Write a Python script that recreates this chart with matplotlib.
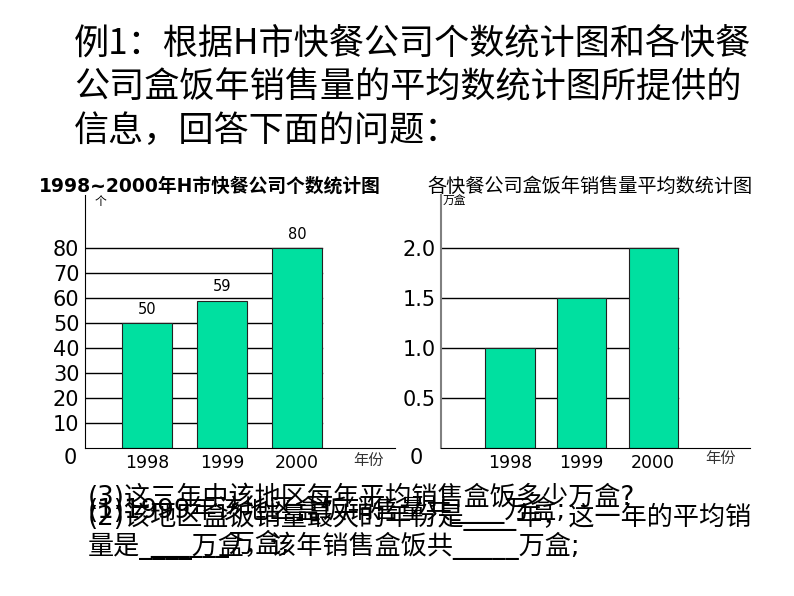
import matplotlib
matplotlib.use("Agg")
import matplotlib.pyplot as plt

plt.rcParams['font.family'] = ['DejaVu Sans', 'Noto Sans CJK SC']

years = ["1998", "1999", "2000"]
companies = [50, 59, 80]
sales = [1.0, 1.5, 2.0]
left_ticks = [0, 10, 20, 30, 40, 50, 60, 70, 80]
right_ticks = [0, 0.5, 1.0, 1.5, 2.0]
right_ticklabels = ["0", "0.5", "1.0", "1.5", "2.0"]

W, H = 794, 596
fig = plt.figure(figsize=(W / 100, H / 100), dpi=100)
BAR = "#00E0A0"


def px_axes(x0, y0, x1, y1):
    return fig.add_axes([x0 / W, 1 - y1 / H, (x1 - x0) / W, (y1 - y0) / H])


# heading
heading = ["例1：根据H市快餐公司个数统计图和各快餐",
           "公司盒饭年销售量的平均数统计图所提供的",
           "信息，回答下面的问题："]
for i, line in enumerate(heading):
    fig.text(74 / W, 1 - (43 + 44 * i) / H, line, fontsize=25.3,
             family=['Noto Sans CJK SC'], va='center', ha='left')

# ---------- left chart ----------
axL = px_axes(85, 195, 395, 448)
c0, sp = 147, 75
axL.set_xlim((85 - c0) / sp, (395 - c0) / sp)
axL.set_ylim(0, (448 - 195) / 2.5)
xs = list(range(len(years)))
bw = 50 / sp
for y in left_ticks[1:]:
    axL.plot([axL.get_xlim()[0], 2 + bw / 2], [y, y], color='black', lw=1, zorder=1)
axL.bar(xs, companies, width=bw, color=BAR, edgecolor='#222222', lw=0.8, zorder=2)
for x, v in zip(xs, companies):
    axL.text(x, v + 2.5, str(v), ha='center', va='bottom', fontsize=10.5)
axL.set_yticks(left_ticks)
axL.set_yticklabels([str(t) if t else "" for t in left_ticks], fontsize=15)
axL.text(-0.025, 0, "0", transform=axL.get_yaxis_transform(), ha='right', va='top', fontsize=15)
axL.set_xticks(xs)
axL.set_xticklabels(years, fontsize=12.5)
axL.tick_params(length=0, pad=4)
for s in ['top', 'right']:
    axL.spines[s].set_visible(False)
axL.spines['left'].set_linewidth(0.8)
axL.spines['bottom'].set_linewidth(0.8)
axL.patch.set_alpha(0)
axL.text(2.95, -1.5, "年份", ha='center', va='top', fontsize=11, color='#333333',
         family=['Noto Sans CJK SC'])
axL.text(0.03, 1.0, "个", transform=axL.transAxes, ha='left', va='top', fontsize=8.5,
         family=['Noto Sans CJK SC'])
fig.text(210 / W, 1 - 186 / H, "1998~2000年H市快餐公司个数统计图", fontsize=13.5,
         fontweight='bold', ha='center', va='center')

# ---------- right chart ----------
axR = px_axes(441, 195, 750, 448)
c0r, spr = 510, 71.5
axR.set_xlim((441 - c0r) / spr, (750 - c0r) / spr)
axR.set_ylim(0, (448 - 195) / 100)
bwr = 49 / spr
for y in right_ticks[1:]:
    axR.plot([axR.get_xlim()[0], 2 + bwr / 2], [y, y], color='black', lw=1, zorder=1)
axR.bar(xs, sales, width=bwr, color=BAR, edgecolor='#222222', lw=0.8, zorder=2)
axR.set_yticks(right_ticks)
axR.set_yticklabels([l if t else "" for t, l in zip(right_ticks, right_ticklabels)], fontsize=15)
axR.text(-0.06, 0, "0", transform=axR.get_yaxis_transform(), ha='right', va='top', fontsize=15)
axR.set_xticks(xs)
axR.set_xticklabels(years, fontsize=12.5)
axR.tick_params(length=0, pad=4)
for s in ['top', 'right']:
    axR.spines[s].set_visible(False)
axR.spines['left'].set_color('#808080')
axR.spines['left'].set_linewidth(1.5)
axR.spines['bottom'].set_linewidth(0.8)
axR.patch.set_alpha(0)
axR.text(2.95, -0.015, "年份", ha='center', va='top', fontsize=11, color='#333333',
         family=['Noto Sans CJK SC'])
axR.text(0.005, 1.0, "万盒", transform=axR.transAxes, ha='left', va='top', fontsize=8.5,
         family=['Noto Sans CJK SC'])
fig.text(590 / W, 1 - 186 / H, "各快餐公司盒饭年销售量平均数统计图", fontsize=13.8,
         ha='center', va='center', family=['Noto Sans CJK SC'])

# ---------- overlapping question text (overlaps as in the reference) ----------
qfont = dict(fontsize=18.8, ha='left', va='center', family=['DejaVu Sans', 'Noto Sans CJK SC'])
fig.text(88 / W, 1 - 498 / H, "(3)这三年中该地区每年平均销售盒饭多少万盒?", **qfont)
fig.text(88 / W, 1 - 510 / H, "(1)1999年该地区盒饭销售量共____万盒;", **qfont)
fig.text(88 / W, 1 - 517 / H, "(2)该地区盒饭销量最大的年份是____年，这一年的平均销", **qfont)
fig.text(88 / W, 1 - 546 / H, "量是____万盒，该年销售盒饭共_____万盒;", **qfont)
fig.text(150 / W, 1 - 544 / H, "______万盒,", **qfont)

fig.savefig("out.png", dpi=100)
